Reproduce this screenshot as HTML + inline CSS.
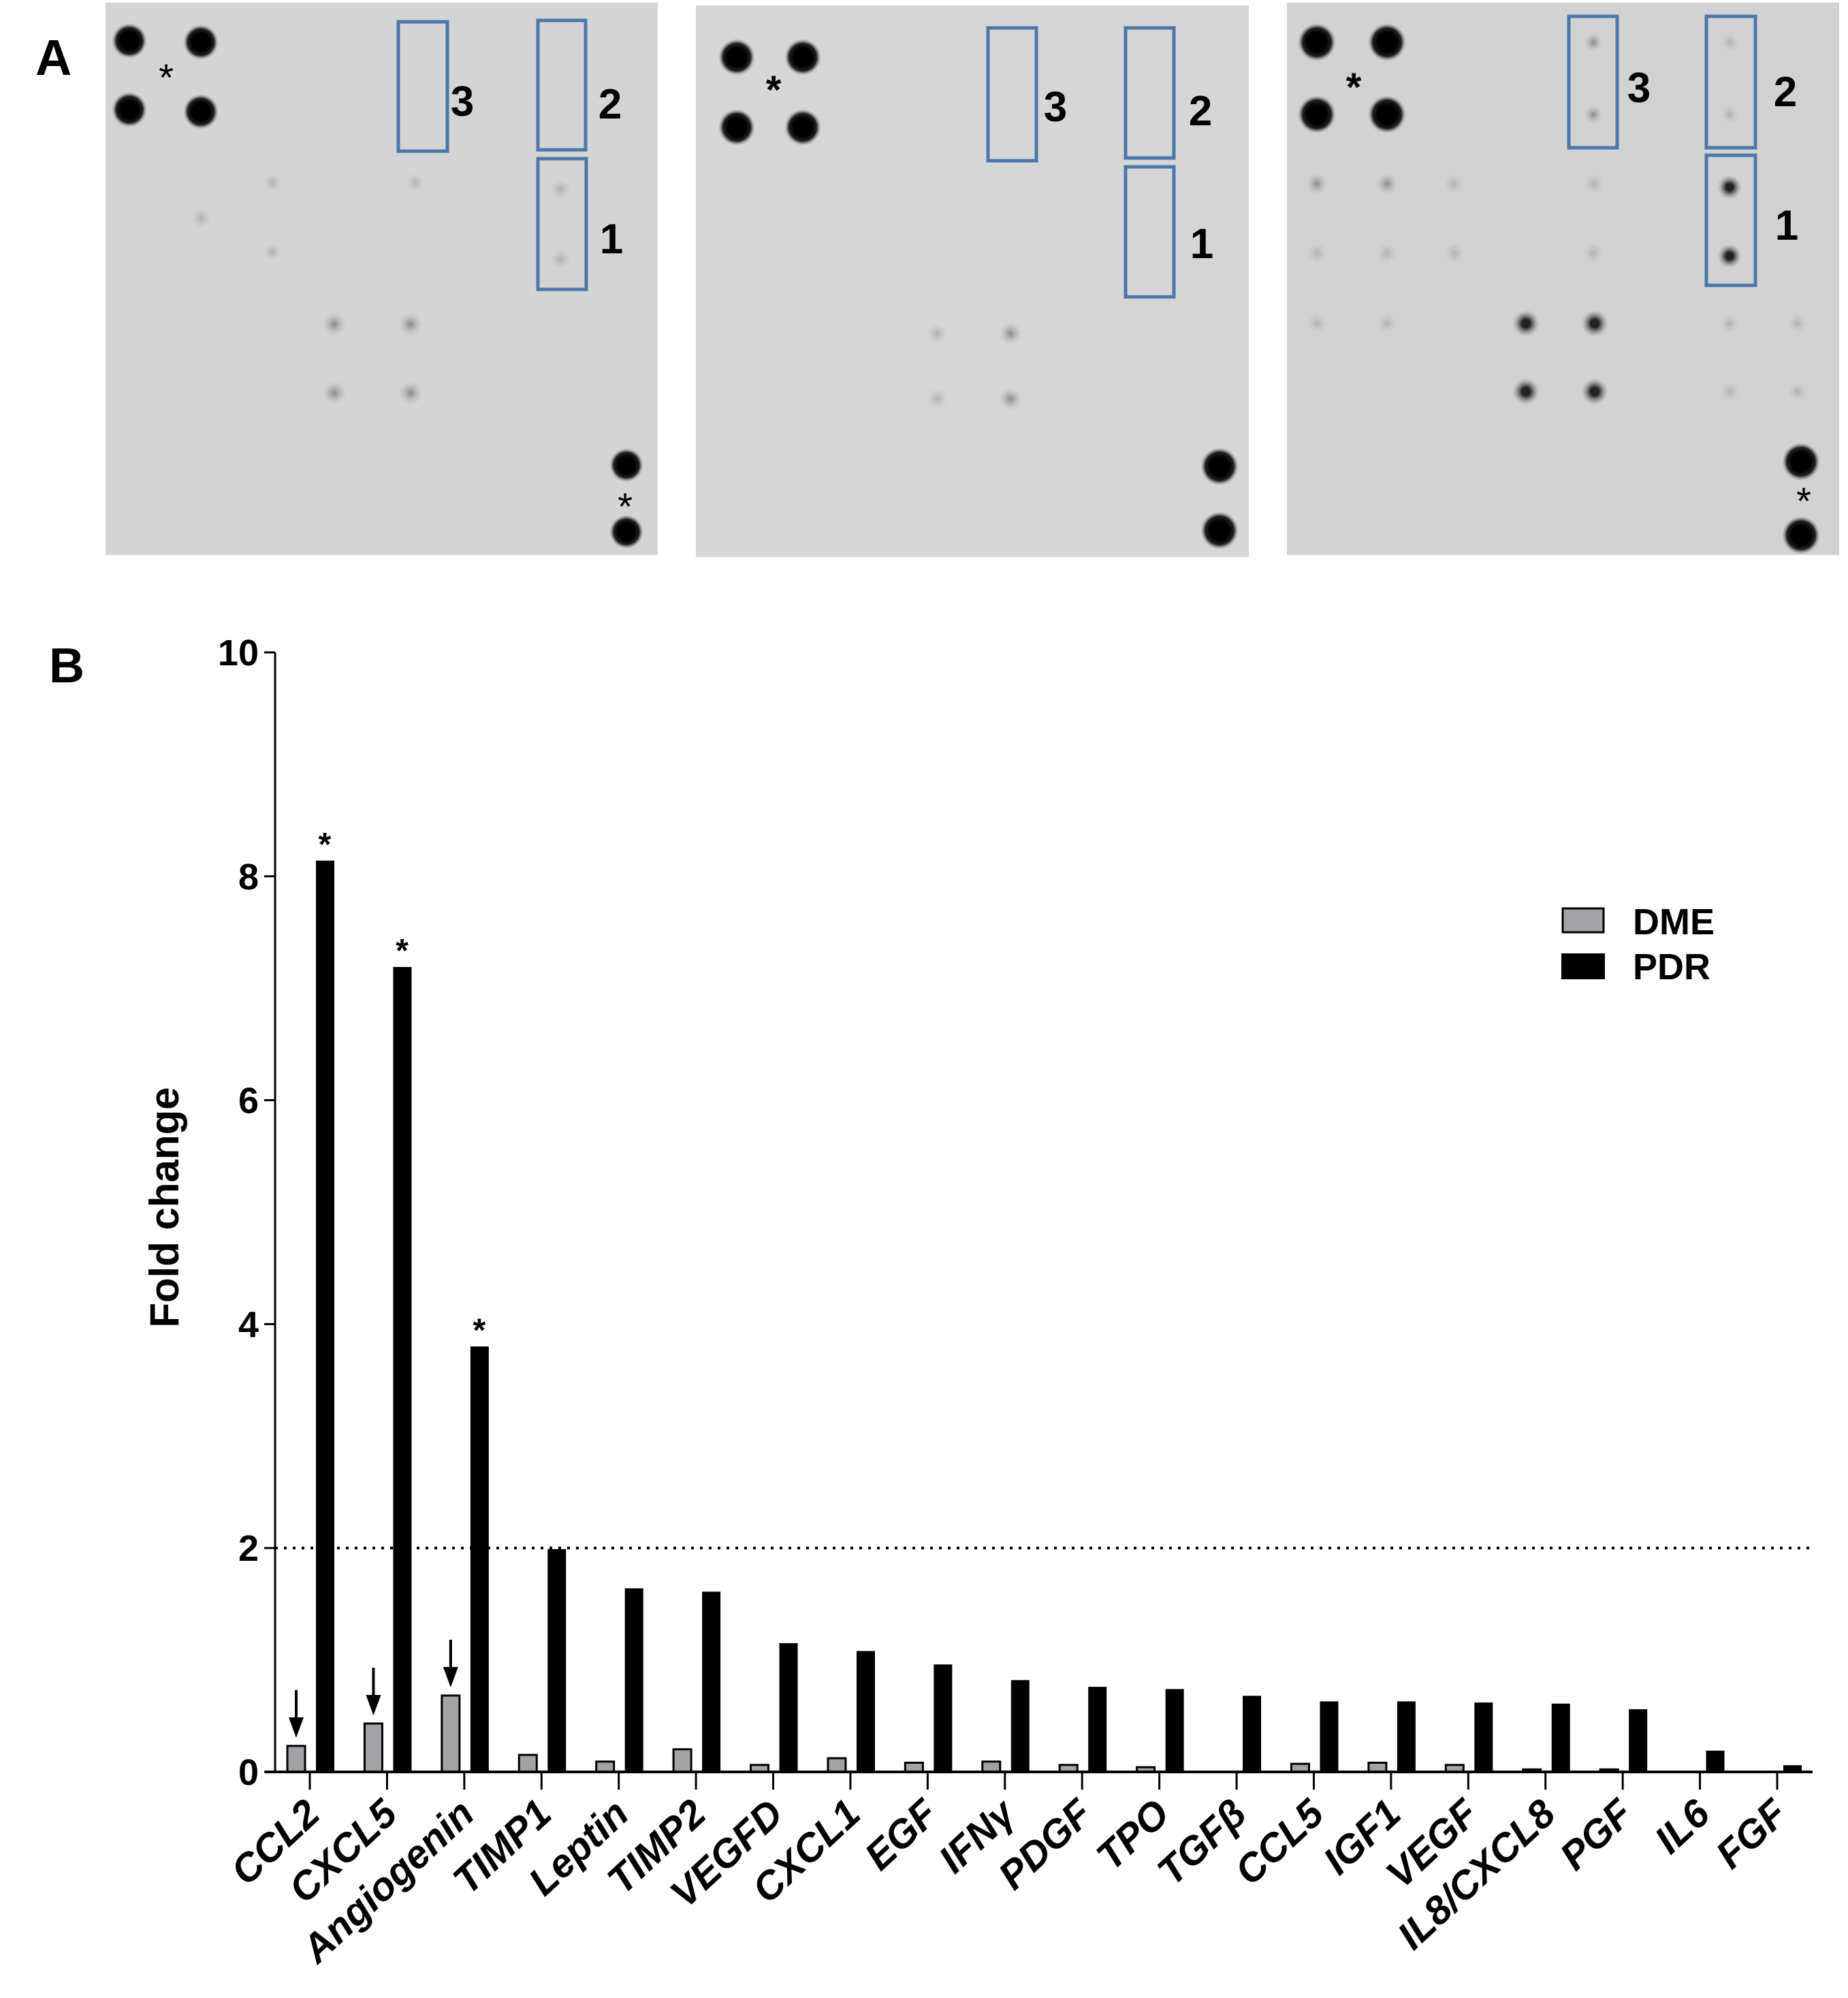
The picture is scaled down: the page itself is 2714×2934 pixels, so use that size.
<!DOCTYPE html>
<html><head><meta charset="utf-8"><style>
html,body{margin:0;padding:0;background:#fff;}
svg{display:block;font-family:"Liberation Sans",Arial,sans-serif;}
</style></head><body>
<svg id="fig" width="2714" height="2934" viewBox="0 0 2714 2934" xmlns="http://www.w3.org/2000/svg">
<defs>
<radialGradient id="dot"><stop offset="0.5" stop-color="#000"/><stop offset="0.75" stop-color="#222"/><stop offset="1" stop-color="#999" stop-opacity="0"/></radialGradient>
<radialGradient id="spot"><stop offset="0" stop-color="#888"/><stop offset="1" stop-color="#bbb" stop-opacity="0"/></radialGradient>
<radialGradient id="dspot"><stop offset="0.3" stop-color="#222"/><stop offset="1" stop-color="#999" stop-opacity="0"/></radialGradient>
<radialGradient id="fspot"><stop offset="0" stop-color="#b0b0b0"/><stop offset="1" stop-color="#c8c8c8" stop-opacity="0"/></radialGradient>
</defs>
<text x="52" y="110" font-size="74" font-weight="bold">A</text>
<text x="72" y="1002" font-size="72" font-weight="bold">B</text>

<g>
<rect x="155" y="4" width="811" height="811" fill="#d4d4d4"/>
<circle cx="190" cy="60" r="26" fill="url(#dot)"/><circle cx="295" cy="62" r="26" fill="url(#dot)"/>
<circle cx="190" cy="161" r="26" fill="url(#dot)"/><circle cx="295" cy="164" r="26" fill="url(#dot)"/>
<circle cx="920" cy="683" r="25" fill="url(#dot)"/><circle cx="920" cy="781" r="25" fill="url(#dot)"/>
<circle cx="491" cy="476" r="18" fill="url(#spot)"/><circle cx="603" cy="476" r="18" fill="url(#spot)"/>
<circle cx="491" cy="577" r="18" fill="url(#spot)"/><circle cx="603" cy="577" r="18" fill="url(#spot)"/>
<circle cx="823" cy="278" r="16" fill="url(#fspot)"/><circle cx="823" cy="381" r="16" fill="url(#fspot)"/>
<circle cx="400" cy="268" r="14" fill="url(#fspot)"/><circle cx="400" cy="370" r="14" fill="url(#fspot)"/>
<circle cx="610" cy="268" r="14" fill="url(#fspot)"/><circle cx="295" cy="320" r="16" fill="url(#fspot)"/>
<text x="244" y="133" font-size="56" text-anchor="middle">*</text>
<text x="918" y="763" font-size="56" text-anchor="middle">*</text>
<rect x="585" y="32" width="72" height="190" fill="none" stroke="#4a78ab" stroke-width="5"/>
<rect x="790" y="30" width="70" height="190" fill="none" stroke="#4a78ab" stroke-width="5"/>
<rect x="790" y="233" width="71" height="192" fill="none" stroke="#4a78ab" stroke-width="5"/>
<text x="679" y="170" font-size="62" font-weight="bold" text-anchor="middle">3</text>
<text x="896" y="174" font-size="62" font-weight="bold" text-anchor="middle">2</text>
<text x="898" y="372" font-size="62" font-weight="bold" text-anchor="middle">1</text>
</g>

<g>
<rect x="1022" y="8" width="812" height="810" fill="#d6d6d6"/>
<circle cx="1082" cy="84" r="27" fill="url(#dot)"/><circle cx="1179" cy="84" r="27" fill="url(#dot)"/>
<circle cx="1082" cy="187" r="27" fill="url(#dot)"/><circle cx="1179" cy="187" r="27" fill="url(#dot)"/>
<circle cx="1791" cy="685" r="28" fill="url(#dot)"/><circle cx="1791" cy="779" r="28" fill="url(#dot)"/>
<circle cx="1376" cy="490" r="16" fill="url(#fspot)"/><circle cx="1484" cy="490" r="17" fill="url(#spot)"/>
<circle cx="1376" cy="586" r="16" fill="url(#fspot)"/><circle cx="1484" cy="586" r="17" fill="url(#spot)"/>
<text x="1136" y="152" font-size="58" font-weight="bold" text-anchor="middle">*</text>
<rect x="1451" y="41" width="71" height="195" fill="none" stroke="#4a78ab" stroke-width="5"/>
<rect x="1653" y="41" width="71" height="191" fill="none" stroke="#4a78ab" stroke-width="5"/>
<rect x="1653" y="245" width="71" height="191" fill="none" stroke="#4a78ab" stroke-width="5"/>
<text x="1550" y="178" font-size="62" font-weight="bold" text-anchor="middle">3</text>
<text x="1763" y="184" font-size="62" font-weight="bold" text-anchor="middle">2</text>
<text x="1765" y="379" font-size="62" font-weight="bold" text-anchor="middle">1</text>
</g>

<g>
<rect x="1890" y="4" width="811" height="811" fill="#d2d2d2"/>
<circle cx="1934" cy="62" r="28" fill="url(#dot)"/><circle cx="2037" cy="62" r="28" fill="url(#dot)"/>
<circle cx="1934" cy="168" r="28" fill="url(#dot)"/><circle cx="2037" cy="168" r="28" fill="url(#dot)"/>
<circle cx="2645" cy="678" r="28" fill="url(#dot)"/><circle cx="2645" cy="786" r="28" fill="url(#dot)"/>
<circle cx="2540" cy="275" r="18" fill="url(#dspot)"/><circle cx="2540" cy="376" r="18" fill="url(#dspot)"/>
<circle cx="2241" cy="475" r="20" fill="url(#dspot)"/><circle cx="2342" cy="475" r="20" fill="url(#dspot)"/>
<circle cx="2241" cy="575" r="20" fill="url(#dspot)"/><circle cx="2342" cy="575" r="20" fill="url(#dspot)"/>
<circle cx="1934" cy="270" r="16" fill="url(#spot)"/><circle cx="2037" cy="270" r="16" fill="url(#spot)"/>
<circle cx="2136" cy="270" r="16" fill="url(#fspot)"/><circle cx="2340" cy="270" r="16" fill="url(#fspot)"/>
<circle cx="1934" cy="372" r="16" fill="url(#fspot)"/><circle cx="2037" cy="372" r="16" fill="url(#fspot)"/>
<circle cx="2136" cy="372" r="16" fill="url(#fspot)"/><circle cx="2340" cy="372" r="16" fill="url(#fspot)"/>
<circle cx="2340" cy="62" r="14" fill="url(#spot)"/><circle cx="2340" cy="168" r="14" fill="url(#spot)"/>
<circle cx="2540" cy="62" r="14" fill="url(#fspot)"/><circle cx="2540" cy="168" r="14" fill="url(#fspot)"/>
<circle cx="1934" cy="475" r="15" fill="url(#fspot)"/><circle cx="2037" cy="475" r="15" fill="url(#fspot)"/>
<circle cx="2540" cy="475" r="15" fill="url(#fspot)"/><circle cx="2640" cy="475" r="15" fill="url(#fspot)"/>
<circle cx="2540" cy="575" r="15" fill="url(#fspot)"/><circle cx="2640" cy="575" r="15" fill="url(#fspot)"/>
<text x="1988" y="148" font-size="58" font-weight="bold" text-anchor="middle">*</text>
<text x="2649" y="755" font-size="56" text-anchor="middle">*</text>
<rect x="2304" y="24" width="71" height="193" fill="none" stroke="#4a78ab" stroke-width="5"/>
<rect x="2506" y="24" width="72" height="193" fill="none" stroke="#4a78ab" stroke-width="5"/>
<rect x="2506" y="228" width="72" height="191" fill="none" stroke="#4a78ab" stroke-width="5"/>
<text x="2407" y="150" font-size="62" font-weight="bold" text-anchor="middle">3</text>
<text x="2622" y="156" font-size="62" font-weight="bold" text-anchor="middle">2</text>
<text x="2624" y="352" font-size="62" font-weight="bold" text-anchor="middle">1</text>
</g>

<g id="chart"></g>
</svg>
<script>
const categories = ["CCL2","CXCL5","Angiogenin","TIMP1","Leptin","TIMP2","VEGFD","CXCL1","EGF","IFN\u03b3","PDGF","TPO","TGF\u03b2","CCL5","IGF1","VEGF","IL8/CXCL8","PGF","IL6","FGF"];
const dmeValues = [0.22,0.42,0.67,0.14,0.08,0.19,0.05,0.11,0.07,0.08,0.05,0.03,0,0.06,0.07,0.05,0.01,0.01,0,0];
const pdrValues = [8.14,7.19,3.80,1.99,1.64,1.61,1.15,1.08,0.96,0.82,0.76,0.74,0.68,0.63,0.63,0.62,0.61,0.56,0.19,0.06];
const yTicks = [0,2,4,6,8,10];
const significant = [0,1,2];
const threshold = 2;

const NS="http://www.w3.org/2000/svg";
const g=document.getElementById('chart');
const X0=404, X1=2662, Y0=2602, YT=958, YMAX=10;
const first=455, step=(2610-455)/19;
function yS(v){return Y0-(v/YMAX)*(Y0-YT);}
function xS(i){return first+i*step;}
function el(t,a,p){const e=document.createElementNS(NS,t);for(const k in a)e.setAttribute(k,a[k]);(p||g).appendChild(e);return e;}

const th=el('line',{x1:X0,x2:X1,y1:yS(threshold),y2:yS(threshold),stroke:'#000','stroke-width':4,'stroke-dasharray':'4 9'});



categories.forEach((c,i)=>{
  const cx=xS(i);
  const gb=el('rect',{x:cx-33,y:yS(dmeValues[i])-2,width:26,height:Math.max(0,Y0-yS(dmeValues[i]))+2,fill:'#a3a3a7',stroke:'#000','stroke-width':3});
  if(dmeValues[i]<=0) gb.setAttribute('height',0);
  
  
  const bb=el('rect',{x:cx+9,y:yS(pdrValues[i]),width:27,height:Y0-yS(pdrValues[i]),fill:'#000'});
  
  
  el('line',{x1:cx,x2:cx,y1:Y0,y2:Y0+26,stroke:'#000','stroke-width':3});
  const t=el('text',{x:0,y:0,'font-size':58,'font-weight':'bold','font-style':'italic','text-anchor':'end',transform:`translate(${cx+18},${Y0+66}) rotate(-43)`});
  t.textContent=c;
  
  
});
significant.forEach(i=>{
  const cx=xS(i);
  const s=el('text',{x:cx+22,y:yS(pdrValues[i])-8,'font-size':48,'font-weight':'bold','text-anchor':'middle'});
  s.textContent='*';
  
  
  const ay=yS(dmeValues[i])-14;
  const ar=el('g',{});
  
  
  el('line',{x1:cx-20,x2:cx-20,y1:ay-70,y2:ay-25,stroke:'#000','stroke-width':4},ar);
  el('polygon',{points:`${cx-31},${ay-30} ${cx-9},${ay-30} ${cx-20},${ay}`,fill:'#000'},ar);
});
el('line',{x1:X0,x2:X0,y1:YT,y2:Y0,stroke:'#000','stroke-width':3});
const xa=el('line',{x1:X0-15,x2:X1,y1:Y0,y2:Y0,stroke:'#000','stroke-width':4});


yTicks.forEach(v=>{
  el('line',{x1:X0-16,x2:X0,y1:yS(v),y2:yS(v),stroke:'#000','stroke-width':3});
  const t=el('text',{x:X0-24,y:yS(v)+19,'font-size':54,'font-weight':'bold','text-anchor':'end'});
  t.textContent=v;
  
  
});
const yt=el('text',{x:0,y:0,'font-size':60,'font-weight':'bold','text-anchor':'middle',transform:'translate(262,1773) rotate(-90)'});
yt.textContent='Fold change';


const lg=el('g',{});


el('rect',{x:2295,y:1334,width:60,height:35,fill:'#a3a3a7',stroke:'#000','stroke-width':3},lg);
el('rect',{x:2293,y:1400,width:64,height:38,fill:'#000'},lg);
const l1=el('text',{x:2398,y:1372,'font-size':54,'font-weight':'bold'},lg);l1.textContent='DME';
const l2=el('text',{x:2398,y:1438,'font-size':54,'font-weight':'bold'},lg);l2.textContent='PDR';
</script>
</body></html>
